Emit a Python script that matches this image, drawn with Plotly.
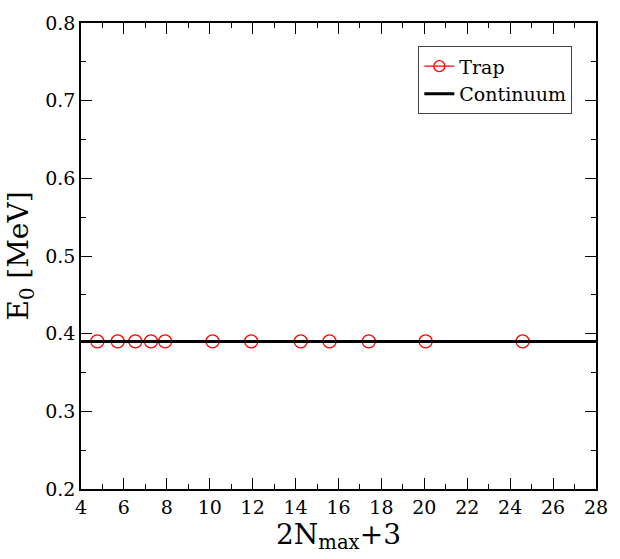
import plotly.graph_objects as go

# Data
trap_x = [4.76, 5.71, 6.53, 7.26, 7.92, 10.13, 11.93, 14.24, 15.58, 17.41, 20.06, 24.58]
trap_y = [0.390] * len(trap_x)
cont_x = [4, 28]
cont_y = [0.390, 0.390]

x_ticks = list(range(4, 29, 2))
y_ticks = [0.2, 0.3, 0.4, 0.5, 0.6, 0.7, 0.8]

FONT = "DejaVu Serif"

fig = go.Figure()
fig.add_trace(go.Scatter(
    x=trap_x, y=trap_y, mode="markers", showlegend=False,
    marker=dict(symbol="circle-open", size=13, color="red", line=dict(width=1.3, color="red")),
))
fig.add_trace(go.Scatter(
    x=cont_x, y=cont_y, mode="lines", showlegend=False,
    line=dict(color="black", width=3),
))
# legend entries
fig.add_trace(go.Scatter(
    x=[None], y=[None], mode="lines+markers", name="Trap",
    marker=dict(symbol="circle-open", size=11, color="red", line=dict(width=1.3, color="red")),
    line=dict(color="red", width=1.3),
))
fig.add_trace(go.Scatter(
    x=[None], y=[None], mode="lines", name="Continuum",
    line=dict(color="black", width=3),
))

axis_common = dict(
    showgrid=False, zeroline=False, showline=True, linecolor="black", linewidth=1.5,
    mirror="allticks", ticks="inside", ticklen=11, tickwidth=1.3, tickcolor="black",
    tickfont=dict(family=FONT, size=19, color="black"),
)

fig.update_layout(
    width=620, height=559,
    margin=dict(l=81, r=14, t=18, b=70),
    paper_bgcolor="white", plot_bgcolor="white",
    font=dict(family=FONT),
    xaxis=dict(
        range=[4, 28], tickvals=x_ticks, ticktext=[str(v) for v in x_ticks],
        minor=dict(dtick=1, ticks="inside", ticklen=5, tickwidth=1.3, tickcolor="black"),
        title=dict(text="2N<sub>max</sub>+3", font=dict(family=FONT, size=28, color="black"), standoff=4),
        **axis_common,
    ),
    yaxis=dict(
        range=[0.2, 0.8], tickvals=y_ticks, ticktext=[f"{v:.1f}" for v in y_ticks],
        minor=dict(dtick=0.05, ticks="inside", ticklen=5, tickwidth=1.3, tickcolor="black"),
        title=dict(text="E<sub>0</sub> [MeV]", font=dict(family=FONT, size=28, color="black"), standoff=8),
        **axis_common,
    ),
    legend=dict(
        x=0.655, y=0.95, xanchor="left", yanchor="top",
        bgcolor="white", bordercolor="#444", borderwidth=1,
        font=dict(family=FONT, size=19, color="black"),
        itemwidth=30, tracegroupgap=0,
    ),
)

fig.write_html("out.html")
